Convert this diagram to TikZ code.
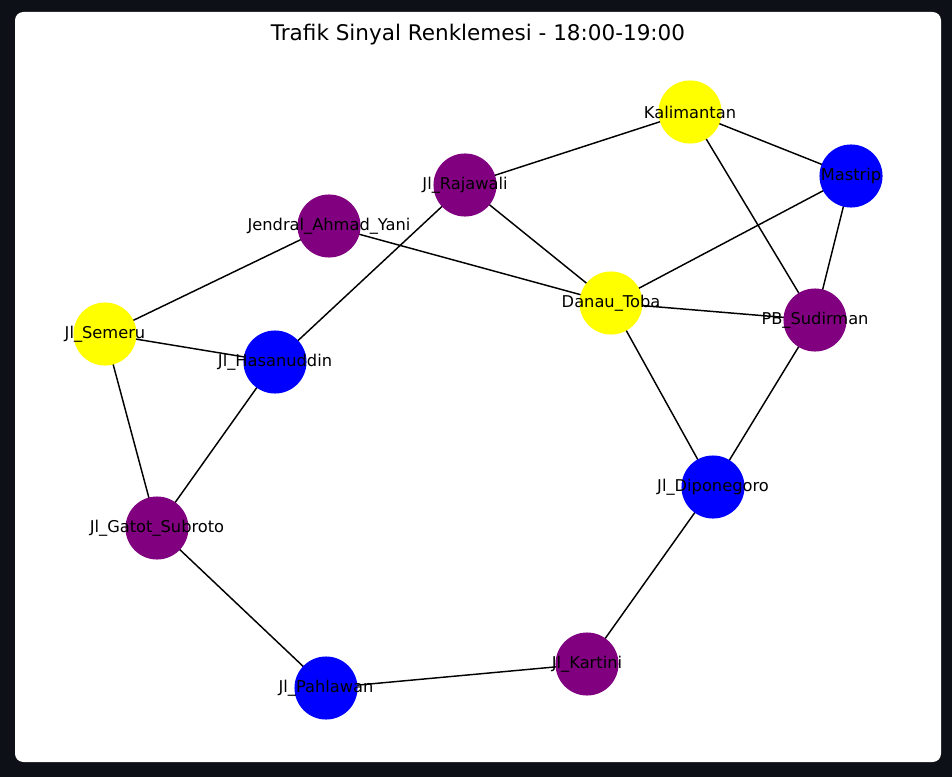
\documentclass[tikz,border=0pt]{standalone}
\usepackage{fontspec}
\setmainfont{DejaVu Sans}
\usepackage{xcolor}
\usetikzlibrary{backgrounds}
\definecolor{frame}{HTML}{0D1117}
\definecolor{nyellow}{HTML}{FFFF00}
\definecolor{nblue}{HTML}{0000FF}
\definecolor{npurple}{HTML}{800080}
\begin{document}
\begin{tikzpicture}[x=0.72pt, y=-0.72pt,
		junction/.style={circle, minimum size=45.4pt, inner sep=0pt},
		every label/.style={font=\fontsize{11.7}{14}\selectfont},
		road/.style={draw=black, line width=1.05pt}]
				\useasboundingbox (0,0) rectangle (952,777);
				\node[font=\fontsize{15.5}{18}\selectfont] (title) at (478,35) {Trafik Sinyal Renklemesi - 18:00-19:00};
				\node[junction, fill=nyellow, label=center:Kalimantan] (kal) at (690,112) {};
				\node[junction, fill=nblue, label=center:Mastrip] (mas) at (851,176) {};
				\node[junction, fill=npurple, label=center:Jl\_Rajawali] (raj) at (465,185) {};
				\node[junction, fill=npurple, label=center:Jendral\_Ahmad\_Yani] (yani) at (329,226) {};
				\node[junction, fill=nyellow, label=center:Danau\_Toba] (toba) at (611,303) {};
				\node[junction, fill=npurple, label=center:PB\_Sudirman] (sud) at (815,320) {};
				\node[junction, fill=nyellow, label=center:Jl\_Semeru] (sem) at (105,334) {};
				\node[junction, fill=nblue, label=center:Jl\_Hasanuddin] (has) at (275,362) {};
				\node[junction, fill=nblue, label=center:Jl\_Diponegoro] (dip) at (713,487) {};
				\node[junction, fill=npurple, label=center:Jl\_Gatot\_Subroto] (gat) at (157,528) {};
				\node[junction, fill=npurple, label=center:Jl\_Kartini] (kar) at (587,664) {};
				\node[junction, fill=nblue, label=center:Jl\_Pahlawan] (pah) at (326,688) {};
				\begin{scope}[on background layer]
					\fill[frame] (0,0) rectangle (952,777);
					\fill[white, rounded corners=6pt] (15,12) rectangle (941,762);
					\draw[road] (kal.center) -- (raj.center);
					\draw[road] (kal.center) -- (mas.center);
					\draw[road] (kal.center) -- (sud.center);
					\draw[road] (mas.center) -- (sud.center);
					\draw[road] (mas.center) -- (toba.center);
					\draw[road] (raj.center) -- (toba.center);
					\draw[road] (raj.center) -- (has.center);
					\draw[road] (yani.center) -- (toba.center);
					\draw[road] (yani.center) -- (sem.center);
					\draw[road] (toba.center) -- (sud.center);
					\draw[road] (toba.center) -- (dip.center);
					\draw[road] (sud.center) -- (dip.center);
					\draw[road] (sem.center) -- (has.center);
					\draw[road] (sem.center) -- (gat.center);
					\draw[road] (has.center) -- (gat.center);
					\draw[road] (gat.center) -- (pah.center);
					\draw[road] (pah.center) -- (kar.center);
					\draw[road] (kar.center) -- (dip.center);
				\end{scope}
		\end{tikzpicture}
\end{document}
